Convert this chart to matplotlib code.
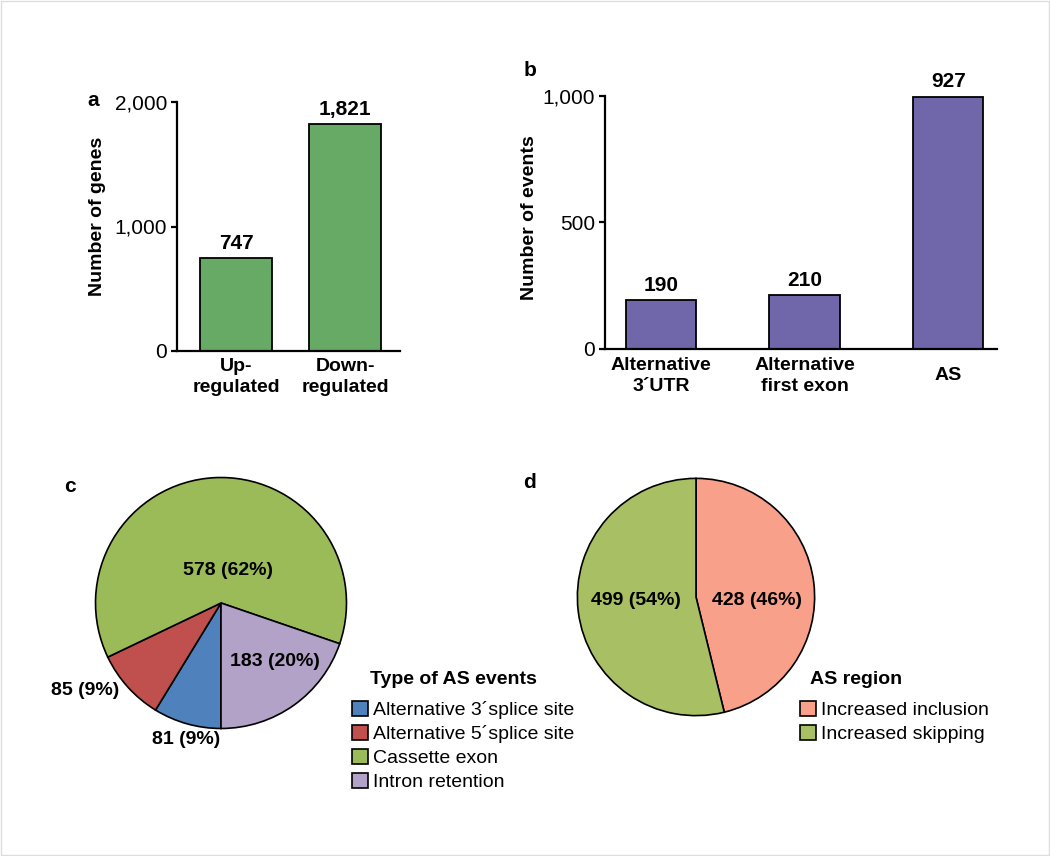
import matplotlib.pyplot as plt
from matplotlib.patches import Rectangle
from matplotlib.ticker import FuncFormatter
from matplotlib.transforms import ScaledTranslation

plt.rcParams['font.family'] = ['Liberation Sans', 'DejaVu Sans']

# Panel a: differentially expressed genes
gene_groups = ['Up-\nregulated', 'Down-\nregulated']
gene_counts = [747, 1821]

# Panel b: event counts (bar heights as drawn, labels as printed)
event_groups = ['Alternative\n3\u00b4UTR', 'Alternative\nfirst exon', 'AS']
event_heights = [192, 212, 996]
event_labels = ['190', '210', '927']

# Panel c: type of AS events
as_types = ['Alternative 3\u00b4splice site', 'Alternative 5\u00b4splice site',
            'Cassette exon', 'Intron retention']
as_type_counts = [81, 85, 578, 183]
as_type_pct = [9, 9, 62, 20]

# Panel d: AS region
as_regions = ['Increased inclusion', 'Increased skipping']
as_region_counts = [428, 499]
as_region_pct = [46, 54]

W, H = 1050, 856
fig = plt.figure(figsize=(W / 100, H / 100), dpi=100)


def px_axes(x0, y0, x1, y1):
    # pixel box (top-left origin) -> figure axes
    return fig.add_axes([x0 / W, 1 - y1 / H, (x1 - x0) / W, (y1 - y0) / H])


def style_bar_axes(ax, groups, drop_px):
    for s in ['top', 'right']:
        ax.spines[s].set_visible(False)
    for s in ['left', 'bottom']:
        ax.spines[s].set_linewidth(1.6)
    ax.tick_params(axis='y', direction='out', length=4, width=1.6, labelsize=15, pad=3)
    ax.yaxis.set_major_formatter(FuncFormatter(lambda v, p: f'{v:,.0f}'))
    ax.set_xticks([])
    # category labels centred vertically below the baseline
    tr = ax.get_xaxis_transform() + ScaledTranslation(0, -drop_px / 100, fig.dpi_scale_trans)
    for i, g in enumerate(groups):
        ax.text(i, 0, g, transform=tr, ha='center', va='center', fontsize=14,
                fontweight='bold', linespacing=1.3)


# ---- a
ax_a = px_axes(177, 102, 400, 351)
bars = ax_a.bar(range(len(gene_counts)), gene_counts, width=0.66,
                color='#66AA66', edgecolor='black', linewidth=1.3)
ax_a.set_ylim(0, 2000)
ax_a.set_xlim(-0.54, 1.5)
ax_a.set_yticks([0, 1000, 2000])
for b, v in zip(bars, gene_counts):
    ax_a.text(b.get_x() + b.get_width() / 2, v + 40, f'{v:,}', ha='center', va='bottom',
              fontsize=15, fontweight='bold')
ax_a.set_ylabel('Number of genes', fontsize=14, fontweight='bold')
ax_a.yaxis.set_label_coords(-0.32, 0.54)
style_bar_axes(ax_a, gene_groups, 26)

# ---- b
ax_b = px_axes(605, 96, 997, 349)
bars = ax_b.bar(range(len(event_heights)), event_heights, width=0.49,
                color='#7067AA', edgecolor='black', linewidth=1.3)
ax_b.set_ylim(0, 1000)
ax_b.set_xlim(-0.39, 2.34)
ax_b.set_yticks([0, 500, 1000])
for b, v, t in zip(bars, event_heights, event_labels):
    ax_b.text(b.get_x() + b.get_width() / 2, v + 22, t, ha='center', va='bottom',
              fontsize=15, fontweight='bold', clip_on=False)
ax_b.set_ylabel('Number of events', fontsize=14, fontweight='bold')
ax_b.yaxis.set_label_coords(-0.17, 0.52)
style_bar_axes(ax_b, event_groups, 27)

# ---- c
ax_c = px_axes(221 - 128, 603 - 128, 221 + 128, 603 + 128)
wedges_c, _ = ax_c.pie(as_type_counts, colors=['#4F81BD', '#C0504D', '#9BBB59', '#B3A2C7'],
                       startangle=270, counterclock=False,
                       wedgeprops=dict(edgecolor='black', linewidth=1.2))
ax_c.set_xlim(-1.02, 1.02)
ax_c.set_ylim(-1.02, 1.02)
c_label_xy = [(-0.28, -1.09), (-1.08, -0.70), (0.055, 0.258), (0.43, -0.47)]
for (x, y), n, p in zip(c_label_xy, as_type_counts, as_type_pct):
    ax_c.text(x, y, f'{n} ({p}%)', ha='center', va='center', fontsize=14,
              fontweight='bold', clip_on=False)
leg_kw = dict(loc='upper left', frameon=False, fontsize=14,
              handlelength=0.8, handleheight=0.8, handletextpad=0.3,
              labelspacing=0.3, borderpad=0, borderaxespad=0)
fig.text(370 / W, 1 - 679 / H, 'Type of AS events', fontsize=14, fontweight='bold',
         ha='left', va='center')
fig.legend(wedges_c, as_types, bbox_to_anchor=(352 / W, 1 - 701 / H), **leg_kw)

# ---- d
ax_d = px_axes(696 - 121, 597 - 121, 696 + 121, 597 + 121)
wedges_d, _ = ax_d.pie(as_region_counts, colors=['#F9A08A', '#A8C063'],
                       startangle=90, counterclock=False,
                       wedgeprops=dict(edgecolor='black', linewidth=1.2))
ax_d.set_xlim(-1.02, 1.02)
ax_d.set_ylim(-1.02, 1.02)
d_label_xy = [(0.51, -0.03), (-0.51, -0.03)]
for (x, y), n, p in zip(d_label_xy, as_region_counts, as_region_pct):
    ax_d.text(x, y, f'{n} ({p}%)', ha='center', va='center', fontsize=14,
              fontweight='bold')
fig.text(810 / W, 1 - 679 / H, 'AS region', fontsize=14, fontweight='bold',
         ha='left', va='center')
fig.legend(wedges_d, as_regions, bbox_to_anchor=(800 / W, 1 - 701 / H), **leg_kw)

# panel letters
for letter, (x, y) in zip('abcd', [(93, 100), (530, 70), (70, 487), (530, 482)]):
    fig.text(x / W, 1 - y / H, letter, fontsize=15, fontweight='bold', ha='center', va='center')

# faint frame round the figure
fig.patches.append(Rectangle((0.001, 0.001), 0.998, 0.998, transform=fig.transFigure,
                             fill=False, edgecolor='#DDDDDD', linewidth=1))

fig.savefig('out.png', dpi=100)
